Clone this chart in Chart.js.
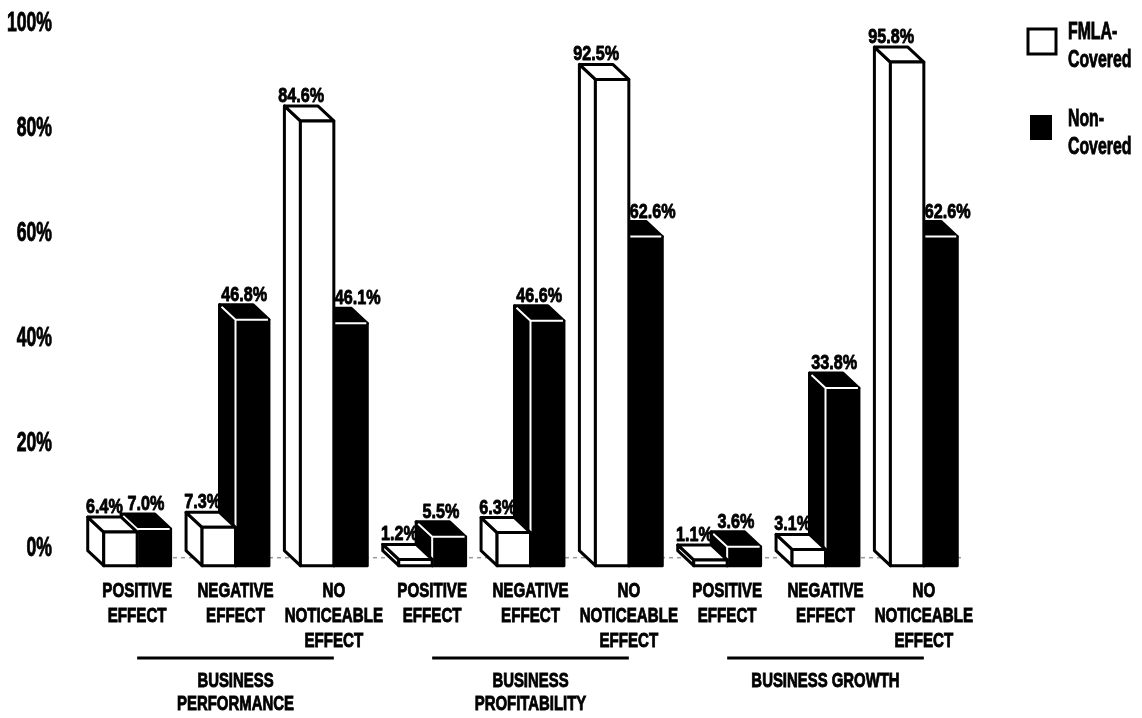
<!DOCTYPE html>
<html>
<head>
<meta charset="utf-8">
<script src="https://cdn.jsdelivr.net/npm/chart.js@4.4.0/dist/chart.umd.min.js"></script>
<style>
  html, body { margin: 0; padding: 0; background: #fff; }
  #wrap { width: 1142px; height: 718px; }
</style>
</head>
<body>
<div id="wrap"><canvas id="fmlaChart"></canvas></div>
<script>
// data
const categories = [
  ['POSITIVE', 'EFFECT'], ['NEGATIVE', 'EFFECT'], ['NO', 'NOTICEABLE', 'EFFECT'],
  ['POSITIVE', 'EFFECT'], ['NEGATIVE', 'EFFECT'], ['NO', 'NOTICEABLE', 'EFFECT'],
  ['POSITIVE', 'EFFECT'], ['NEGATIVE', 'EFFECT'], ['NO', 'NOTICEABLE', 'EFFECT']
];
const groupLabels = [['BUSINESS', 'PERFORMANCE'], ['BUSINESS', 'PROFITABILITY'], ['BUSINESS GROWTH']];
const fmlaCovered = [6.4, 7.3, 84.6, 1.2, 6.3, 92.5, 1.1, 3.1, 95.8];
const nonCovered = [7.0, 46.8, 46.1, 5.5, 46.6, 62.6, 3.6, 33.8, 62.6];
const yTicks = [0, 20, 40, 60, 80, 100];
const legendNames = [['FMLA-', 'Covered'], ['Non-', 'Covered']];

// no condensed face installed, so squeeze a bold sans sideways
const FONT = "'Liberation Sans', Arial, sans-serif";
const DX = -16, DY = -15; // fake depth of the boxes

function squeezeText(ctx, s, x, y, size, sx, align, baseline) {
  ctx.save();
  ctx.font = 'bold ' + size + 'px ' + FONT;
  ctx.textAlign = align || 'center';
  ctx.textBaseline = baseline || 'middle';
  ctx.fillStyle = '#000';
  ctx.strokeStyle = '#000';
  ctx.lineWidth = 0.9;
  ctx.translate(x, y);
  ctx.scale(sx, 1);
  ctx.fillText(s, 0, 0);
  ctx.strokeText(s, 0, 0);
  ctx.restore();
}

function textWidth(ctx, s, size, sx) {
  ctx.save();
  ctx.font = 'bold ' + size + 'px ' + FONT;
  const w = ctx.measureText(s).width * sx;
  ctx.restore();
  return w;
}

function drawBox(ctx, bar, dark) {
  const p = bar.getProps(['x', 'y', 'base', 'width'], true);
  const l = p.x - p.width / 2, r = p.x + p.width / 2, t = p.y, b = p.base;
  const side = [[l, t], [l + DX, t + DY], [l + DX, b + DY], [l, b]];
  const top = [[l, t], [l + DX, t + DY], [r + DX, t + DY], [r, t]];
  const front = [[l, t], [r, t], [r, b], [l, b]];
  ctx.lineJoin = 'round';
  [side, top, front].forEach(face => {
    ctx.beginPath();
    face.forEach((pt, k) => k ? ctx.lineTo(pt[0], pt[1]) : ctx.moveTo(pt[0], pt[1]));
    ctx.closePath();
    ctx.fillStyle = dark ? '#000' : '#fff';
    ctx.fill();
    ctx.strokeStyle = '#000';
    ctx.lineWidth = 3;
    ctx.stroke();
  });
  if (dark) {
    // white edges between faces
    ctx.beginPath();
    ctx.moveTo(l + DX + 2, t + DY + 2);
    ctx.lineTo(l, t);
    ctx.lineTo(r - 1, t);
    ctx.moveTo(l, t);
    ctx.lineTo(l, b - 1);
    ctx.strokeStyle = '#fff';
    ctx.lineWidth = 2;
    ctx.stroke();
  }
  return { l, r, t, b };
}

const bars3d = {
  id: 'bars3d',
  beforeDatasetsDraw(chart) {
    const { ctx, chartArea } = chart;
    ctx.save();
    ctx.setLineDash([4, 4]);
    ctx.strokeStyle = '#999';
    ctx.lineWidth = 1.5;
    ctx.beginPath();
    ctx.moveTo(chartArea.left + 85, chartArea.bottom - 8);
    ctx.lineTo(chartArea.right - 10, chartArea.bottom - 8);
    ctx.stroke();
    ctx.restore();
  },
  afterDatasetsDraw(chart) {
    const ctx = chart.ctx;
    const white = chart.getDatasetMeta(0).data;
    const black = chart.getDatasetMeta(1).data;
    ctx.save();
    for (let i = 0; i < white.length; i++) {
      const bb = drawBox(ctx, black[i], true);
      const wb = drawBox(ctx, white[i], false);
      const wt = fmlaCovered[i].toFixed(1) + '%';
      squeezeText(ctx, wt, (wb.l + wb.r) / 2 + DX, wb.t + DY - 4, 21, 0.77, 'center', 'alphabetic');
      const bt = nonCovered[i].toFixed(1) + '%';
      const tw = textWidth(ctx, bt, 21, 0.77);
      let cx = (bb.l + bb.r) / 2 + DX / 2;
      if (wb.t < bb.t + DY - 20) cx = Math.max(cx, wb.r + 1 + tw / 2);
      squeezeText(ctx, bt, cx, bb.t + DY - 4, 21, 0.77, 'center', 'alphabetic');
    }
    ctx.restore();
  },
  afterDraw(chart) {
    const ctx = chart.ctx;
    const xs = chart.scales.x, ys = chart.scales.y;
    ctx.save();
    // y tick labels sit level with the back of the boxes
    yTicks.forEach(v => squeezeText(ctx, v + '%', 52, ys.getPixelForValue(v) - 17, 28, 0.63, 'right'));
    // category labels
    categories.forEach((lines, i) => {
      const x = xs.getPixelForValue(i);
      lines.forEach((s, k) => squeezeText(ctx, s, x, 591 + k * 25, 21, 0.72));
    });
    // group lines and names
    groupLabels.forEach((lines, g) => {
      const x0 = xs.getPixelForValue(g * 3), x1 = xs.getPixelForValue(g * 3 + 2);
      ctx.strokeStyle = '#000';
      ctx.lineWidth = 3;
      ctx.beginPath();
      ctx.moveTo(x0, 658);
      ctx.lineTo(x1, 658);
      ctx.stroke();
      lines.forEach((s, k) => squeezeText(ctx, s, (x0 + x1) / 2, 681 + k * 23, 21, 0.71));
    });
    // legend
    ctx.lineWidth = 3;
    ctx.strokeStyle = '#000';
    ctx.fillStyle = '#fff';
    ctx.fillRect(1028, 29, 28, 25);
    ctx.strokeRect(1028, 29, 28, 25);
    ctx.fillStyle = '#000';
    ctx.fillRect(1030, 115, 22, 25);
    legendNames.forEach((lines, k) => {
      lines.forEach((s, j) => squeezeText(ctx, s, 1068, (k ? 119 : 32) + j * 28, 24, 0.66, 'left'));
    });
    ctx.restore();
  }
};

new Chart(document.getElementById('fmlaChart'), {
  type: 'bar',
  data: {
    labels: categories,
    datasets: [
      { label: 'FMLA-Covered', data: fmlaCovered, backgroundColor: 'rgba(0,0,0,0)', borderWidth: 0 },
      { label: 'Non-Covered', data: nonCovered, backgroundColor: 'rgba(0,0,0,0)', borderWidth: 0 }
    ]
  },
  options: {
    responsive: true,
    maintainAspectRatio: false,
    animation: false,
    layout: { padding: { top: 40, right: 169, bottom: 0, left: 0 } },
    datasets: { bar: { categoryPercentage: 0.68, barPercentage: 1.0 } },
    plugins: { legend: { display: false }, tooltip: { enabled: false } },
    scales: {
      x: {
        afterFit(scale) { scale.height = 152.3; },
        grid: { display: false, drawTicks: false },
        border: { display: false },
        ticks: { display: false }
      },
      y: {
        min: 0,
        max: 100,
        afterFit(scale) { scale.width = 88; },
        grid: { display: false, drawTicks: false },
        border: { display: false },
        ticks: { display: false, stepSize: 20 }
      }
    }
  },
  plugins: [bars3d]
});
</script>
</body>
</html>
